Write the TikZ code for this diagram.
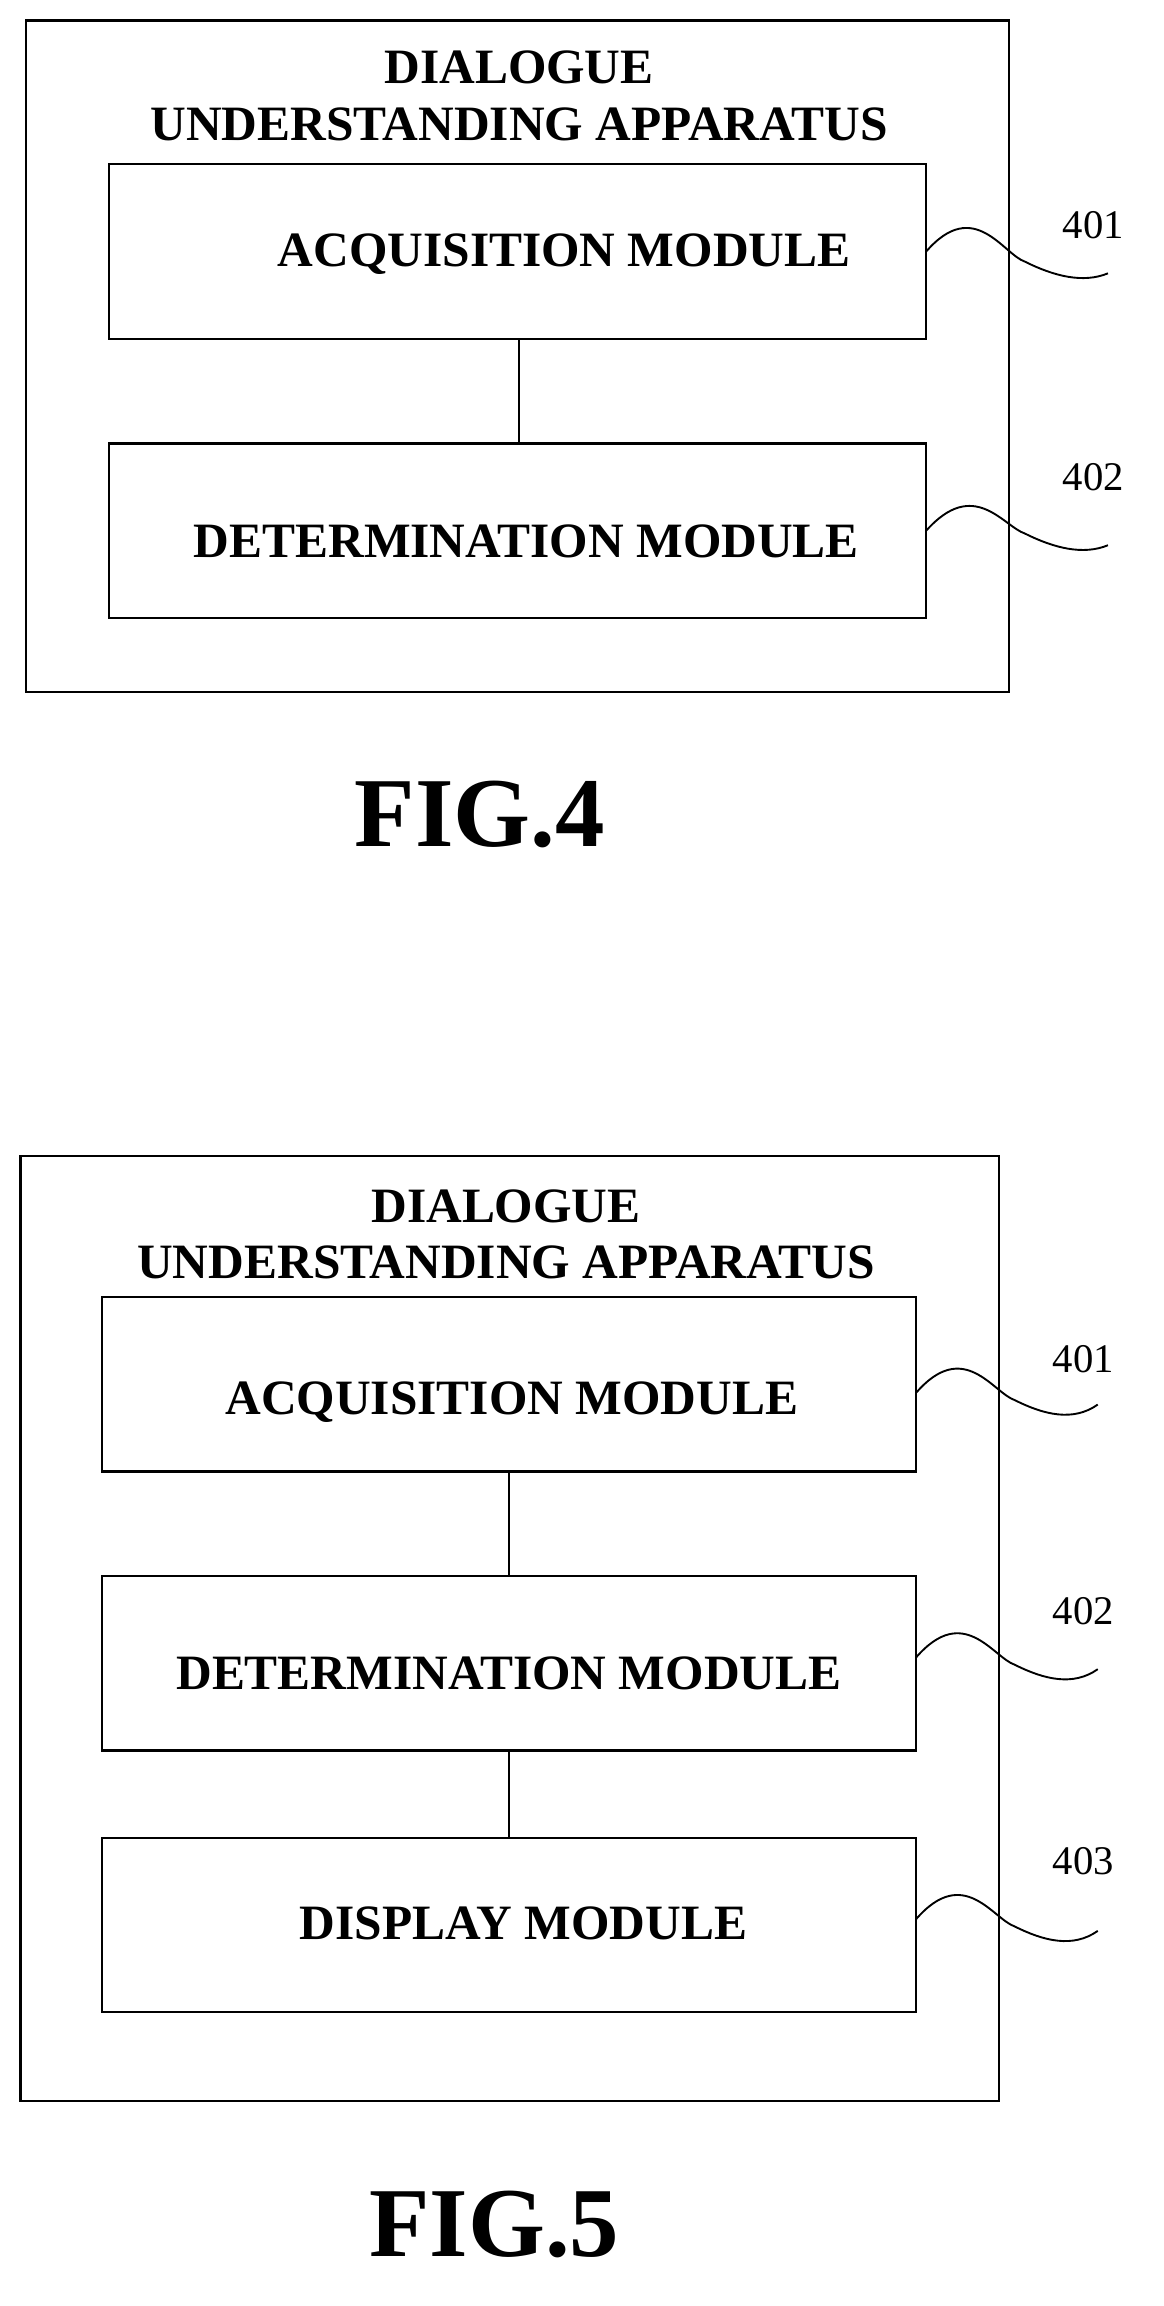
\documentclass[tikz,border=0pt]{standalone}
\usepackage{fontspec}
\setmainfont{Liberation Serif}
\begin{document}
\begin{tikzpicture}[x=1pt,y=-1pt,
  box/.style={draw,line width=1.6pt,inner sep=0pt},
  mod/.style={font=\fontsize{34}{36}\selectfont\bfseries},
  ttl/.style={font=\fontsize{34}{39}\selectfont\bfseries,align=center},
  num/.style={font=\fontsize{28}{29}\selectfont},
  fig/.style={font=\fontsize{68}{68}\selectfont\bfseries},
  wave/.style={line width=1.3pt}]
\useasboundingbox (0,0) rectangle (800,1586);
% FIG 4
\draw[box] (18,14) rectangle (694,476);
\node[ttl] (t4) at (357,66) {DIALOGUE\\UNDERSTANDING APPARATUS};
\draw[box] (75,113) rectangle (637,233);
\node[mod] (a4) at (388,175) {ACQUISITION MODULE};
\draw[box] (75,305) rectangle (637,425);
\node[mod] (d4) at (362,372) {DETERMINATION MODULE};
\coordinate (a4b) at (357,233); \coordinate (d4t) at (357,305);
\draw[line width=1.3pt] (a4b) -- (d4t);
\coordinate (w1s) at (637,173); \coordinate (w1e) at (762,188);
\draw[wave] (w1s) .. controls (670,135) and (690,175) .. (705,180) .. controls (725,190) and (745,195) .. (w1e);
\node[num] (n401a) at (752,155) {401};
\coordinate (w2s) at (637,365); \coordinate (w2e) at (762,375);
\draw[wave] (w2s) .. controls (670,328) and (690,362) .. (705,367) .. controls (725,377) and (745,382) .. (w2e);
\node[num] (n402a) at (752,328) {402};
\node[fig] (f4) at (330,560) {FIG.4};
% FIG 5
\draw[box] (14,795) rectangle (687,1445);
\node[ttl] (t5) at (348,849) {DIALOGUE\\UNDERSTANDING APPARATUS};
\draw[box] (70,892) rectangle (630,1012);
\node[mod] (a5) at (352,964) {ACQUISITION MODULE};
\draw[box] (70,1084) rectangle (630,1204);
\node[mod] (d5) at (350,1151) {DETERMINATION MODULE};
\draw[box] (70,1264) rectangle (630,1384);
\node[mod] (p5) at (360,1323) {DISPLAY MODULE};
\draw[line width=1.3pt] (350,1012) -- (350,1084);
\draw[line width=1.3pt] (350,1204) -- (350,1264);
\draw[wave] (630,958) .. controls (663,920) and (683,958) .. (698,963) .. controls (718,973) and (738,978) .. (755,966);
\node[num] (n401b) at (745,935) {401};
\draw[wave] (630,1140) .. controls (663,1102) and (683,1140) .. (698,1145) .. controls (718,1155) and (738,1160) .. (755,1148);
\node[num] (n402b) at (745,1108) {402};
\draw[wave] (630,1320) .. controls (663,1282) and (683,1320) .. (698,1325) .. controls (718,1335) and (738,1340) .. (755,1328);
\node[num] (n403b) at (745,1280) {403};
\node[fig] (f5) at (340,1530) {FIG.5};
\end{tikzpicture}
\end{document}
